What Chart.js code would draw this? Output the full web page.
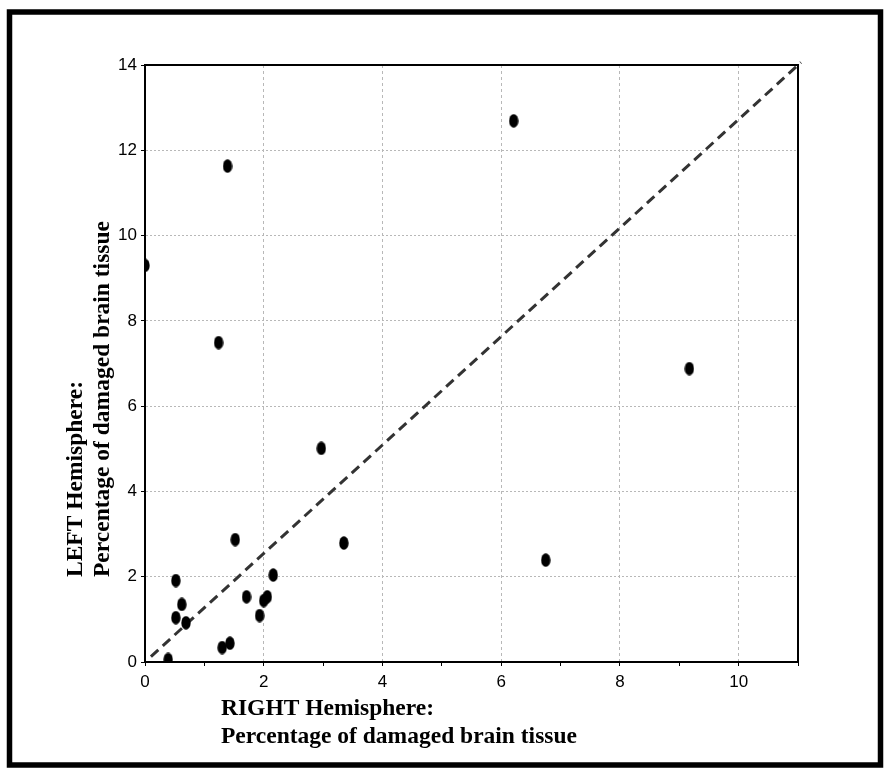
<!DOCTYPE html>
<html>
<head>
<meta charset="utf-8">
<script src="https://cdn.jsdelivr.net/npm/chart.js@4.4.1/dist/chart.umd.min.js"></script>
<style>
  html, body { margin: 0; padding: 0; background: #fff; }
  #wrap { width: 887px; height: 773px; }
</style>
</head>
<body>
<div id="wrap"><canvas id="c" width="887" height="773"></canvas></div>
<script>
// Damaged brain tissue per hemisphere, one entry per patient (%)
const rightPct = [0.00, 1.39, 6.21, 1.24, 9.17, 2.97, 3.35, 6.75, 1.52, 0.52, 0.62,
                  0.52, 0.69, 0.39, 1.30, 1.43, 1.71, 1.93, 2.00, 2.06, 2.16];
const leftPct  = [9.30, 11.63, 12.69, 7.49, 6.88, 5.01, 2.79, 2.39, 2.87, 1.91, 1.35,
                  1.04, 0.92, 0.06, 0.34, 0.44, 1.53, 1.09, 1.44, 1.53, 2.04];

// Reference diagonal
const diagX = [0.10, 11.05];
const diagY = [0.127, 14.06];

// Axis ranges and labelled ticks
const xRange = [0, 11];
const yRange = [0, 14];
const xTickLabels = [0, 2, 4, 6, 8, 10];
const yTickLabels = [0, 2, 4, 6, 8, 10, 12, 14];

const xTitle = ['RIGHT Hemisphere:', 'Percentage of damaged brain tissue'];
const yTitle = ['LEFT Hemisphere:', 'Percentage of damaged brain tissue'];

const scatterPoints = rightPct.map((x, i) => ({ x, y: leftPct[i] }));
const diagPoints = diagX.map((x, i) => ({ x, y: diagY[i] }));

// Filled oval marker
function ovalMarker(w, h) {
  const cv = document.createElement('canvas');
  cv.width = w; cv.height = h;
  const g = cv.getContext('2d');
  g.fillStyle = '#000';
  g.beginPath();
  g.ellipse(w / 2, h / 2, w / 2 - 0.3, h / 2 - 0.3, 0, 0, Math.PI * 2);
  g.fill();
  return cv;
}
const marker = ovalMarker(10, 14);

const tickFont = { family: '"Liberation Sans", Arial, sans-serif', size: 17 };
const titleFont = 'bold 23.5px "Liberation Serif", "Times New Roman", serif';

// Page frame, plot box and the two-line axis titles
const framePlugin = {
  id: 'frame',
  beforeDraw(chart) {
    const ctx = chart.ctx;
    ctx.save();
    ctx.fillStyle = '#fff';
    ctx.fillRect(0, 0, chart.width, chart.height);
    ctx.strokeStyle = '#000';
    ctx.lineWidth = 5.5;
    ctx.strokeRect(9.5, 12, 871, 753);
    ctx.restore();
  },
  afterDraw(chart) {
    const ctx = chart.ctx;
    const a = chart.chartArea;
    ctx.save();
    ctx.strokeStyle = '#000';
    ctx.lineWidth = 2;
    ctx.beginPath();
    ctx.moveTo(a.left, a.top);
    ctx.lineTo(a.right, a.top);
    ctx.lineTo(a.right, a.bottom);
    ctx.stroke();

    ctx.fillStyle = '#000';
    ctx.font = titleFont;
    ctx.textAlign = 'left';
    ctx.textBaseline = 'alphabetic';
    ctx.fillText(xTitle[0], 221, 715);
    ctx.fillText(xTitle[1], 221, 743);

    ctx.translate(82, 577);
    ctx.rotate(-Math.PI / 2);
    ctx.fillText(yTitle[0], 0, 0);
    ctx.fillText(yTitle[1], 0, 27);
    ctx.restore();
  }
};

new Chart(document.getElementById('c'), {
  type: 'scatter',
  data: {
    datasets: [
      {
        data: scatterPoints,
        pointStyle: marker,
        pointRadius: 6,
        pointHoverRadius: 6,
        clip: 0,
        order: 1
      },
      {
        type: 'line',
        data: diagPoints,
        showLine: true,
        borderColor: '#333',
        borderWidth: 3,
        borderDash: [10, 6],
        pointRadius: 0,
        fill: false,
        clip: false,
        order: 2
      }
    ]
  },
  options: {
    responsive: false,
    animation: false,
    events: [],
    layout: { padding: { left: 0, top: 65, right: 89, bottom: 0 } },
    plugins: { legend: { display: false }, tooltip: { enabled: false } },
    scales: {
      x: {
        type: 'linear',
        min: xRange[0],
        max: xRange[1],
        afterFit(s) { s.height = 111; },
        afterBuildTicks(s) {
          const t = [];
          for (let v = xRange[0]; v <= xRange[1]; v++) t.push({ value: v });
          s.ticks = t;
        },
        ticks: {
          font: tickFont,
          color: '#000',
          padding: 6,
          maxRotation: 0,
          autoSkip: false,
          callback: (v) => (xTickLabels.includes(v) ? String(v) : '')
        },
        grid: {
          color: (c) => (c.tick && xTickLabels.includes(c.tick.value) && c.tick.value > xRange[0] ? '#b8b8b8' : 'rgba(0,0,0,0)'),
          lineWidth: 1,
          tickColor: '#000',
          tickLength: 4
        },
        border: { color: '#000', width: 2, dash: [3, 3] }
      },
      y: {
        type: 'linear',
        min: yRange[0],
        max: yRange[1],
        afterFit(s) { s.width = 145; },
        afterBuildTicks(s) { s.ticks = yTickLabels.map((v) => ({ value: v })); },
        ticks: {
          font: tickFont,
          color: '#000',
          padding: 4,
          callback: (v) => String(v)
        },
        grid: {
          color: (c) => (c.tick && c.tick.value > yRange[0] && c.tick.value < yRange[1] ? '#b8b8b8' : 'rgba(0,0,0,0)'),
          lineWidth: 1,
          tickColor: '#000',
          tickLength: 4
        },
        border: { color: '#000', width: 2, dash: [2, 2] }
      }
    }
  },
  plugins: [framePlugin]
});
</script>
</body>
</html>
